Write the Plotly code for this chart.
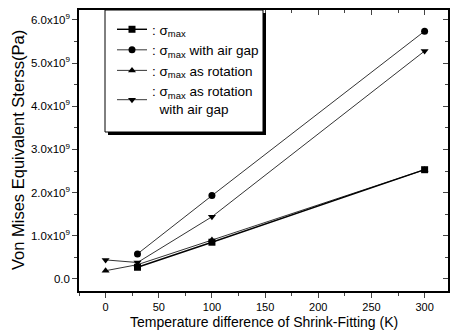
import plotly.graph_objects as go

x_sq = [30, 100, 300]
y_sq = [0.27e9, 0.85e9, 2.53e9]
x_ci = [30, 100, 300]
y_ci = [0.58e9, 1.93e9, 5.74e9]
x_up = [0, 30, 100, 300]
y_up = [0.19e9, 0.33e9, 0.90e9, 2.53e9]
x_dn = [0, 30, 100, 300]
y_dn = [0.44e9, 0.38e9, 1.44e9, 5.28e9]

names = [": σ<sub>max</sub>",
         ": σ<sub>max</sub> with air gap",
         ": σ<sub>max</sub> as rotation",
         ": σ<sub>max</sub> as rotation<br>  with air gap"]

ytick_vals = [0, 1e9, 2e9, 3e9, 4e9, 5e9, 6e9]
ytick_text = ["0.0", "1.0x10<sup>9</sup>", "2.0x10<sup>9</sup>", "3.0x10<sup>9</sup>",
              "4.0x10<sup>9</sup>", "5.0x10<sup>9</sup>", "6.0x10<sup>9</sup>"]
xtick_vals = [0, 50, 100, 150, 200, 250, 300]

W, H = 455, 334
ML, MR, MT, MB = 79, 7, 10, 43
PW, PH = W - ML - MR, H - MT - MB


def px(x):
    return (x - ML) / PW


def py(y):
    return (H - MB - y) / PH


FONT = "Liberation Sans, Arial, sans-serif"
fig = go.Figure()
series = [(x_sq, y_sq, "square", 1.4), (x_ci, y_ci, "circle", 0.8),
          (x_up, y_up, "triangle-up", 0.8), (x_dn, y_dn, "triangle-down", 0.8)]
for (xs, ys, sym, w), nm in zip(series, names):
    fig.add_trace(go.Scatter(x=xs, y=ys, mode="lines+markers", name=nm,
                             line=dict(color="black", width=w),
                             marker=dict(symbol=sym, size=7, color="black")))

xr = [-25, 322]
yr = [-0.28e9, 6.23e9]
fig.update_layout(
    width=W, height=H,
    margin=dict(l=ML, r=MR, t=MT, b=MB, autoexpand=False),
    paper_bgcolor="white", plot_bgcolor="white",
    font=dict(family=FONT, color="black", size=10),
    showlegend=True,
    legend=dict(x=px(112), y=py(14), xanchor="left", yanchor="top",
                bgcolor="rgba(0,0,0,0)", borderwidth=0,
                font=dict(size=13.5, family=FONT), tracegroupgap=0,
                itemwidth=30),
    xaxis=dict(range=xr, tickvals=xtick_vals, ticks="outside", ticklen=5, automargin=False,
               showgrid=False, zeroline=False, showline=True, linecolor="black",
               linewidth=1.5, mirror=True,
               minor=dict(ticks="outside", ticklen=3, dtick=25, tick0=0),
               tickfont=dict(size=11)),
    yaxis=dict(range=yr, tickvals=ytick_vals, ticktext=ytick_text, ticks="outside",
               ticklen=5, showgrid=False, zeroline=False, showline=True, automargin=False,
               linecolor="black", linewidth=1.5, mirror=True,
               minor=dict(ticks="outside", ticklen=3, dtick=0.5e9, tick0=0),
               tickfont=dict(size=11.5)),
    xaxis2=dict(range=xr, overlaying="x", side="top", tickvals=xtick_vals, ticks="inside",
                ticklen=5, showticklabels=False, showgrid=False, zeroline=False, automargin=False,
                minor=dict(ticks="inside", ticklen=3, dtick=25, tick0=0)),
    yaxis2=dict(range=yr, overlaying="y", side="right", tickvals=ytick_vals, ticks="inside",
                ticklen=5, showticklabels=False, showgrid=False, zeroline=False, automargin=False,
                minor=dict(ticks="inside", ticklen=3, dtick=0.5e9, tick0=0)),
    shapes=[
        dict(type="rect", xref="paper", yref="paper", layer="above",
             x0=px(108), x1=px(266), y0=py(13), y1=py(135),
             fillcolor="black", line=dict(width=0)),
        dict(type="rect", xref="paper", yref="paper", layer="above",
             x0=px(105), x1=px(263), y0=py(10), y1=py(132),
             fillcolor="white", line=dict(color="black", width=1)),
    ],
    annotations=[
        dict(text="Temperature difference of Shrink-Fitting (K)", xref="paper", yref="paper",
             x=0.5, y=py(322), xanchor="center", yanchor="middle", showarrow=False,
             font=dict(size=14)),
        dict(text="Von Mises Equivalent Sterss(Pa)", xref="paper", yref="paper",
             x=px(18), y=py(150), xanchor="center", yanchor="middle", showarrow=False,
             textangle=-90, font=dict(size=16.5)),
    ],
)
fig.add_trace(go.Scatter(x=[None], y=[None], xaxis="x2", yaxis="y2", showlegend=False,
                         hoverinfo="skip"))
fig.write_html("out.html", config={"displayModeBar": False},
               post_script="document.body.style.margin='0';")
